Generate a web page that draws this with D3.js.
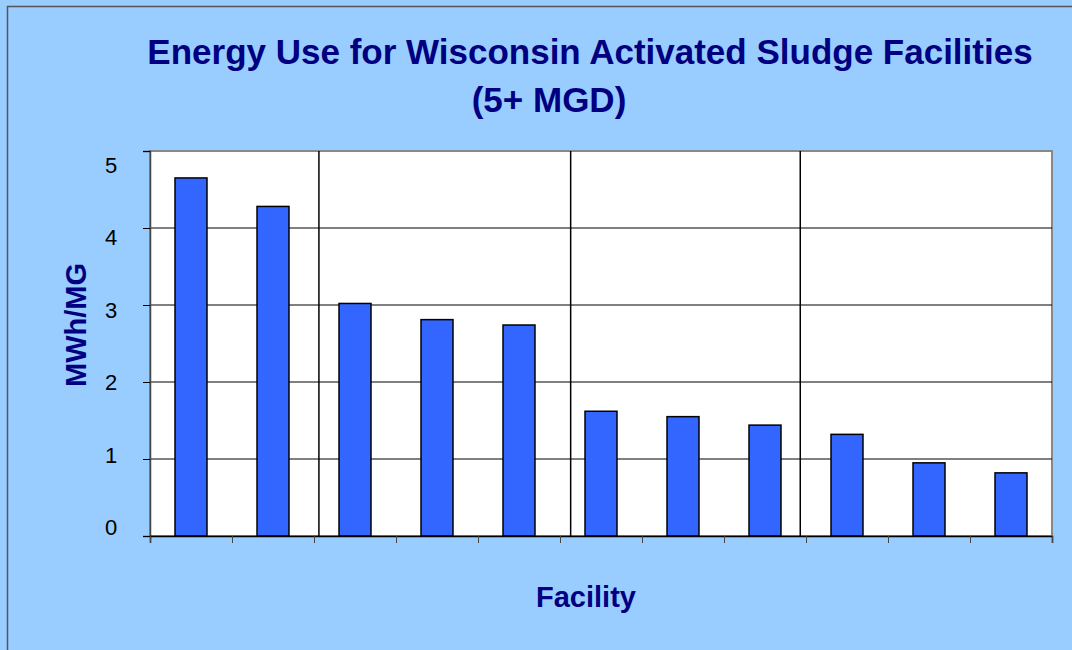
<!DOCTYPE html>
<html>
<head>
<meta charset="utf-8">
<script src="https://cdn.jsdelivr.net/npm/d3@7"></script>
<style>
  body { margin: 0; background: #99ccff; }
  text { font-family: "Liberation Sans", Arial, sans-serif; }
</style>
</head>
<body>
<div id="chart"></div>
<script>
// values
const facilities = ["F1", "F2", "F3", "F4", "F5", "F6", "F7", "F8", "F9", "F10", "F11"]
const energy = [4.65, 4.28, 3.02, 2.81, 2.74, 1.62, 1.55, 1.44, 1.32, 0.95, 0.82]
const yTicks = [0, 1, 2, 3, 4, 5]
// separator lines, in category units from the left edge
const dividers = [2.06, 5.13, 7.93]

const width = 1072, height = 650
const plot = { left: 150, right: 1052, top: 151, bottom: 536 }

const svg = d3.select("#chart")
    .append("svg")
    .attr("width", width)
    .attr("height", height)

// background + outer frame
svg.append("rect")
    .attr("x", 0).attr("y", 0)
    .attr("width", width).attr("height", height)
    .attr("fill", "#99ccff")
svg.append("rect")
    .attr("x", 7.5).attr("y", 6.5)
    .attr("width", 1200).attr("height", 800)
    .attr("fill", "none")
    .attr("stroke", "#555")
    .attr("stroke-width", 1.5)

// plot area
svg.append("rect")
    .attr("x", plot.left).attr("y", plot.top)
    .attr("width", plot.right - plot.left).attr("height", plot.bottom - plot.top)
    .attr("fill", "#fff")
    .attr("stroke", "#888")
    .attr("stroke-width", 2)

const x = d3.scaleBand()
    .domain(facilities)
    .range([plot.left, plot.right])
    .paddingInner(0.61)
    .paddingOuter(0.305)

const y = d3.scaleLinear()
    .domain([0, 5])
    .range([plot.bottom, plot.top])

// tick labels sit a bit inside the tick marks in the original
const yLabel = d3.scaleLinear()
    .domain([0, 5])
    .range([527, 165])

const xPos = d3.scaleLinear()
    .domain([0, facilities.length])
    .range([plot.left, plot.right])

// horizontal gridlines
svg.append("g")
    .selectAll("line")
    .data(yTicks.filter(d => d > 0 && d < 5))
    .enter()
    .append("line")
    .attr("x1", plot.left).attr("x2", plot.right)
    .attr("y1", d => y(d)).attr("y2", d => y(d))
    .attr("stroke", "#000")
    .attr("stroke-width", 1)

// vertical separators
svg.append("g")
    .selectAll("line")
    .data(dividers)
    .enter()
    .append("line")
    .attr("x1", d => xPos(d)).attr("x2", d => xPos(d))
    .attr("y1", plot.top).attr("y2", plot.bottom)
    .attr("stroke", "#000")
    .attr("stroke-width", 1.5)

// bars
svg.append("g")
    .selectAll("rect")
    .data(energy)
    .enter()
    .append("rect")
    .attr("x", (d, i) => x(facilities[i]))
    .attr("y", d => y(d))
    .attr("width", x.bandwidth())
    .attr("height", d => plot.bottom - y(d))
    .attr("fill", "#3366ff")
    .attr("stroke", "#000")
    .attr("stroke-width", 1.5)

// y axis (marks only, labels below)
const yAxis = svg.append("g")
    .attr("transform", "translate(" + plot.left + ",0)")
    .call(d3.axisLeft(y).tickValues(yTicks).tickSize(7).tickFormat(""))
yAxis.select(".domain").attr("stroke", "#444").attr("stroke-width", 1.5)
yAxis.selectAll(".tick line").attr("stroke", "#000")

svg.append("g")
    .selectAll("text")
    .data(yTicks)
    .enter()
    .append("text")
    .attr("x", 111)
    .attr("y", d => yLabel(d))
    .attr("dy", "0.36em")
    .attr("text-anchor", "middle")
    .attr("font-size", 22)
    .attr("fill", "#000")
    .text(d => d)

// x axis with ticks between categories
const xAxis = svg.append("g")
    .attr("transform", "translate(0," + plot.bottom + ")")
    .call(d3.axisBottom(xPos).ticks(facilities.length).tickSize(7).tickFormat(""))
xAxis.select(".domain").attr("stroke", "#000").attr("stroke-width", 1.5)
xAxis.selectAll(".tick line").attr("stroke", "#444")

// titles
svg.append("text")
    .attr("x", 590).attr("y", 64)
    .attr("text-anchor", "middle")
    .attr("font-size", 35)
    .attr("font-weight", "bold")
    .attr("fill", "#000080")
    .text("Energy Use for Wisconsin Activated Sludge Facilities")
svg.append("text")
    .attr("x", 549).attr("y", 112)
    .attr("text-anchor", "middle")
    .attr("font-size", 35)
    .attr("font-weight", "bold")
    .attr("fill", "#000080")
    .text("(5+ MGD)")

svg.append("text")
    .attr("transform", "translate(86,325) rotate(-90)")
    .attr("text-anchor", "middle")
    .attr("font-size", 29)
    .attr("font-weight", "bold")
    .attr("fill", "#000080")
    .text("MWh/MG")

svg.append("text")
    .attr("x", 586).attr("y", 607)
    .attr("text-anchor", "middle")
    .attr("font-size", 29)
    .attr("font-weight", "bold")
    .attr("fill", "#000080")
    .text("Facility")
</script>
</body>
</html>
